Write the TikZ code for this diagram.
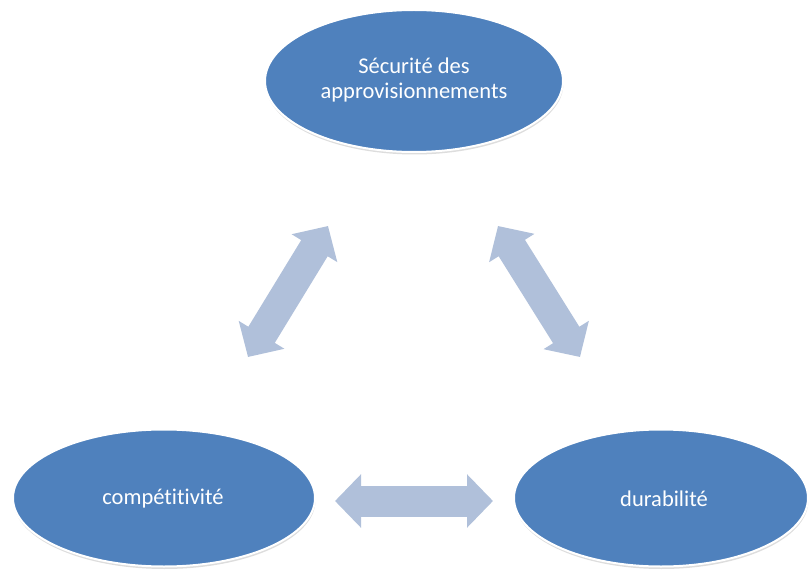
\documentclass[tikz,border=0pt]{standalone}
\usepackage{fontspec}
\setmainfont{Carlito}[Ligatures=NoCommon]
\usetikzlibrary{shapes.geometric,arrows.meta,shadows}
\definecolor{ellblue}{HTML}{4F81BD}
\definecolor{arrblue}{HTML}{B0C0DA}
\tikzset{
  bubble/.style={ellipse, fill=ellblue, draw=white, line width=2pt, inner sep=0pt,
    drop shadow={fill=black!22, shadow xshift=0.5pt, shadow yshift=-2.5pt, opacity=0.6}},
  bubbletext/.style={text=white, font=\fontsize{22.5}{24.5}\selectfont, align=center},
  bigarrow/.style={draw=arrblue, line width=31pt,
    {Triangle[length=26pt,width=52pt]}-{Triangle[length=26pt,width=52pt]}}
}
\begin{document}
\begin{tikzpicture}[x=1pt,y=-1pt]
\useasboundingbox (0,0) rectangle (809,575);
\node[bubble, minimum width=298pt, minimum height=142pt] (top) at (414,81) {};
\node[bubbletext] (toptext) at (414,80) {Sécurité des\\approvisionnements};
\node[bubble, minimum width=302pt, minimum height=137pt] (left) at (164,498) {};
\node[bubbletext] (lefttext) at (163,499) {compétitivité};
\node[bubble, minimum width=294pt, minimum height=137pt] (right) at (661,498) {};
\node[bubbletext] (righttext) at (664,499) {durabilité};
\coordinate (la) at (248,357);
\coordinate (lb) at (328,226);
\coordinate (ra) at (498,226);
\coordinate (rb) at (580,357);
\coordinate (ba) at (335,501);
\coordinate (bb) at (493,501);
\draw[bigarrow] (la) -- (lb);
\draw[bigarrow] (ra) -- (rb);
\draw[bigarrow] (ba) -- (bb);
\end{tikzpicture}
\end{document}
